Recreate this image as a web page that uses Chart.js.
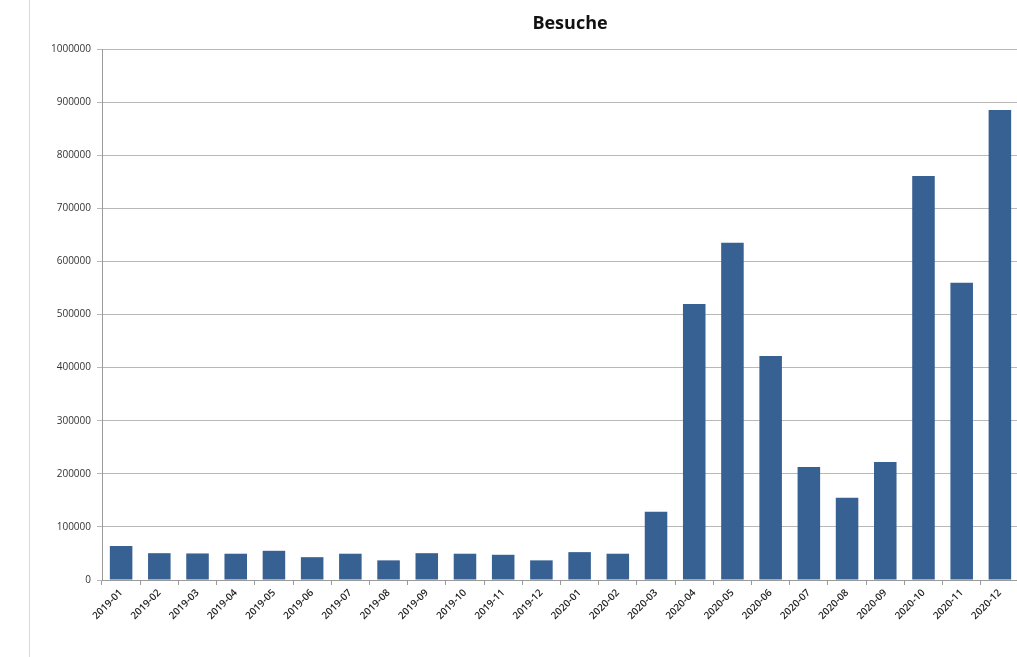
<!DOCTYPE html>
<html>
<head>
<meta charset="utf-8">
<script src="https://cdn.jsdelivr.net/npm/chart.js@4/dist/chart.umd.min.js"></script>
<style>
  html, body { margin: 0; padding: 0; background: #ffffff; overflow: hidden; }
  #wrap { position: relative; width: 1017px; height: 657px; overflow: hidden; }
  #frame { position: absolute; left: 29px; top: 0; width: 0; height: 657px; border-left: 1px solid #d3dae4; }
  #c { position: absolute; left: 0; top: 0; }
</style>
</head>
<body>
<div id="wrap">
  <div id="frame"></div>
  <canvas id="c" width="1030" height="657" style="width:1030px;height:657px"></canvas>
</div>
<script>
const chartTitle = 'Besuche';
const categories = ['2019-01','2019-02','2019-03','2019-04','2019-05','2019-06','2019-07','2019-08','2019-09','2019-10','2019-11','2019-12',
                    '2020-01','2020-02','2020-03','2020-04','2020-05','2020-06','2020-07','2020-08','2020-09','2020-10','2020-11','2020-12'];
const visits = [64000, 50500, 50000, 49500, 55000, 43000, 49500, 37000, 50500, 49500, 47500, 37000,
                52500, 49500, 128500, 520000, 635000, 422000, 213000, 155000, 222000, 761000, 560000, 885000];
const yTicks = [0, 100000, 200000, 300000, 400000, 500000, 600000, 700000, 800000, 900000, 1000000];

const titlePlugin = {
  id: 'fixedTitle',
  afterDraw(chart) {
    const ctx = chart.ctx;
    ctx.save();
    ctx.font = 'bold 18px "Open Sans", "Liberation Sans", sans-serif';
    ctx.fillStyle = '#111111';
    ctx.textAlign = 'center';
    ctx.textBaseline = 'alphabetic';
    ctx.fillText(chartTitle, 570, 29);
    ctx.restore();
  }
};

new Chart(document.getElementById('c'), {
  type: 'bar',
  data: {
    labels: categories,
    datasets: [{
      label: chartTitle,
      data: visits,
      backgroundColor: '#386193',
      borderWidth: 0,
      barPercentage: 0.59,
      categoryPercentage: 1.0
    }]
  },
  options: {
    responsive: false,
    animation: false,
    devicePixelRatio: 1,
    layout: { padding: { left: 0, right: 11, top: 49, bottom: 0 } },
    plugins: {
      legend: { display: false },
      title: { display: false },
      tooltip: { enabled: false }
    },
    scales: {
      x: {
        offset: true,
        grid: {
          offset: true,
          drawOnChartArea: false,
          drawTicks: true,
          tickLength: 5,
          color: '#9a9a9a'
        },
        border: { display: true, color: '#9a9a9a', width: 1 },
        ticks: {
          autoSkip: false,
          maxRotation: 45,
          minRotation: 45,
          padding: 2,
          color: '#1e1e1e',
          font: { family: '"Open Sans", "Liberation Sans", sans-serif', size: 10, weight: '600' }
        },
        afterFit(axis) { axis.height = 77; }
      },
      y: {
        min: 0,
        max: 1000000,
        afterBuildTicks(axis) { axis.ticks = yTicks.map(v => ({ value: v })); },
        grid: {
          drawTicks: true,
          tickLength: 5,
          color: '#b8b8b8',
          lineWidth: 1
        },
        border: { display: true, color: '#9a9a9a', width: 1 },
        ticks: {
          padding: 6,
          color: '#333333',
          font: { family: '"Open Sans", "Liberation Sans", sans-serif', size: 10 },
          callback: (v) => String(v)
        },
        afterFit(axis) { axis.width = 102; }
      }
    }
  },
  plugins: [titlePlugin]
});
</script>
</body>
</html>
